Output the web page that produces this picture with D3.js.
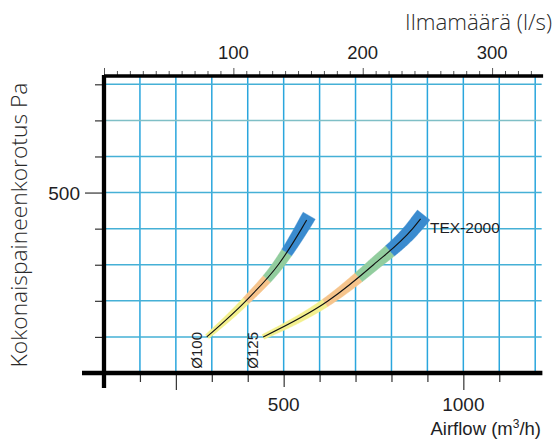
<!DOCTYPE html>
<html>
<head>
<meta charset="utf-8">
<script src="https://cdn.jsdelivr.net/npm/d3@7"></script>
<style>
  body { margin: 0; background: #fff; }
  svg text { font-family: "Liberation Sans", Arial, sans-serif; fill: #1e1e24; }
  svg text.light { font-family: "Open Sans", Lato, sans-serif; font-weight: 300; fill: #2a2a2a; }
</style>
</head>
<body>
<svg id="chart" width="558" height="441"></svg>
<script>
'use strict';

// tick values
var airflowTicks = [100, 200, 300, 400, 500, 600, 700, 800, 900, 1000, 1100];
var airflowLabels = [500, 1000];
var litreTicks = d3.range(0, 340, 10);
var litreLabels = [100, 200, 300];
var pressureTicks = [100, 200, 300, 400, 500, 600, 700, 800];
var pressureLabels = [500];

// duct curves: airflow (m3/h) vs pressure (Pa)
var d100Flow = [286, 395, 485, 550, 564];
var d100Pa = [100, 200, 300, 400, 424];
var d100Breaks = [286, 395, 453, 508, 564];

var d125Flow = [443, 624, 750, 859, 881];
var d125Pa = [100, 200, 300, 400, 427];
var d125Breaks = [443, 615, 708, 795, 881];

var bandColors = ['#f3f08e', '#f6c48c', '#92cd9e', '#3a8bcf'];

var svg = d3.select('#chart');

var x = d3.scaleLinear().domain([0, 1200]).range([104, 535.2]);
var xLs = d3.scaleLinear().domain([0, 1200 / 3.6]).range([104, 535.2]);
var y = d3.scaleLinear().domain([0, 800]).range([373, 84.3]);

var topY = y(823);

// grid
var grid = svg.append('g').attr('class', 'grid');
grid.selectAll('line.v')
  .data(airflowTicks.concat([1200]))
  .enter().append('line')
  .attr('class', 'v')
  .attr('x1', function (d) { return x(d); })
  .attr('x2', function (d) { return x(d); })
  .attr('y1', topY)
  .attr('y2', y(0))
  .attr('stroke', '#2aa6dd')
  .attr('stroke-width', 1.5);

grid.selectAll('line.h')
  .data(pressureTicks)
  .enter().append('line')
  .attr('class', 'h')
  .attr('x1', x(0))
  .attr('x2', x(1218))
  .attr('y1', function (d) { return y(d); })
  .attr('y2', function (d) { return y(d); })
  .attr('stroke', function (d) { return d === 700 ? '#7fbfc6' : '#45b0d6'; })
  .attr('stroke-width', 1.5);

// curves with coloured bands
var plot = svg.append('g').attr('class', 'curves');
var line = d3.line().curve(d3.curveMonotoneX);

function drawDuct(flow, pa, breaks, w0, w1, ext) {
  var pts = flow.map(function (f, i) { return [x(f), y(pa[i])]; });
  var guide = plot.append('path').attr('d', line(pts)).attr('fill', 'none');
  var node = guide.node();
  var total = node.getTotalLength();
  var n = 300;

  var samples = d3.range(n + 1).map(function (i) {
    var p = node.getPointAtLength(total * i / n);
    return { x: p.x, y: p.y, t: i / n };
  });
  samples.forEach(function (s, i) {
    var a = samples[Math.max(i - 1, 0)];
    var b = samples[Math.min(i + 1, n)];
    var dx = b.x - a.x, dy = b.y - a.y, len = Math.hypot(dx, dy);
    s.nx = -dy / len;
    s.ny = dx / len;
    s.w = w0 + (w1 - w0) * s.t;
  });

  // the band runs a little past the end of the line
  var last = samples[n];
  var tip = { x: last.x + last.ny * ext, y: last.y - last.nx * ext, nx: last.nx, ny: last.ny, w: last.w };

  var bandG = plot.insert('g', function () { return node; });
  for (var k = 0; k < breaks.length - 1; k++) {
    var xa = x(breaks[k]), xb = x(breaks[k + 1]);
    var i0 = samples.findIndex(function (s) { return s.x >= xa; });
    var i1 = samples.findIndex(function (s) { return s.x >= xb; });
    if (i1 < 0) i1 = n;
    var seg = samples.slice(i0, i1 + 1);
    if (k === breaks.length - 2) seg.push(tip);
    var upper = seg.map(function (s) { return [s.x + s.nx * s.w, s.y + s.ny * s.w]; });
    var lower = seg.map(function (s) { return [s.x - s.nx * s.w, s.y - s.ny * s.w]; }).reverse();
    bandG.append('path')
      .attr('d', 'M' + upper.concat(lower).join('L') + 'Z')
      .attr('fill', bandColors[k])
      .attr('stroke', bandColors[k])
      .attr('stroke-width', 0.4);
  }

  guide.attr('stroke', '#111').attr('stroke-width', 1.1);
}

drawDuct(d100Flow, d100Pa, d100Breaks, 2.6, 7, 5);
drawDuct(d125Flow, d125Pa, d125Breaks, 2.6, 8, 5);

// axes ticks
var axes = svg.append('g').attr('class', 'axes');

var bottomTicks = axes.append('g')
  .attr('transform', 'translate(0,' + y(0) + ')')
  .call(d3.axisBottom(x).tickValues(airflowTicks)
    .tickSizeInner(9).tickSizeOuter(0).tickFormat(''));
bottomTicks.select('.domain').remove();
bottomTicks.selectAll('.tick line')
  .attr('stroke', '#333')
  .attr('stroke-width', 1.2)
  .attr('y2', function (d) { return (d === 200 || d === 1000) ? 17 : (d === 500 ? 14 : 9); });

var leftTicks = axes.append('g')
  .attr('transform', 'translate(' + x(0) + ',0)')
  .call(d3.axisLeft(y).tickValues(pressureTicks)
    .tickSizeInner(9).tickSizeOuter(0).tickFormat(''));
leftTicks.select('.domain').remove();
leftTicks.selectAll('.tick line')
  .attr('stroke', '#333')
  .attr('stroke-width', 1.2)
  .attr('x2', function (d) { return d === 500 ? -19 : -9; });

var topTicks = axes.append('g')
  .attr('transform', 'translate(0,' + topY + ')')
  .call(d3.axisTop(xLs).tickValues(litreTicks)
    .tickSizeInner(5).tickSizeOuter(0).tickFormat(''));
topTicks.select('.domain').remove();
topTicks.selectAll('.tick line')
  .attr('stroke', '#555')
  .attr('stroke-width', 1)
  .attr('y2', function (d) { return d % 100 === 0 ? -8 : -5; });

// heavy axis lines
axes.append('line')
  .attr('x1', x(0)).attr('x2', x(0))
  .attr('y1', topY - 1).attr('y2', y(0) + 15)
  .attr('stroke', '#000').attr('stroke-width', 4.3);
axes.append('line')
  .attr('x1', x(0) - 22).attr('x2', x(1220))
  .attr('y1', y(0)).attr('y2', y(0))
  .attr('stroke', '#000').attr('stroke-width', 4.3);
axes.append('line')
  .attr('x1', x(0)).attr('x2', x(1222))
  .attr('y1', topY).attr('y2', topY)
  .attr('stroke', '#000').attr('stroke-width', 3.6);

// labels
var labels = svg.append('g').attr('class', 'labels');

labels.selectAll('text.bx')
  .data(airflowLabels)
  .enter().append('text')
  .attr('class', 'bx')
  .attr('x', function (d) { return x(d); })
  .attr('y', 411)
  .attr('text-anchor', 'middle')
  .attr('font-size', 19)
  .text(function (d) { return d; });

labels.selectAll('text.tx')
  .data(litreLabels)
  .enter().append('text')
  .attr('class', 'tx')
  .attr('x', function (d) { return xLs(d); })
  .attr('y', 59)
  .attr('text-anchor', 'middle')
  .attr('font-size', 18.5)
  .text(function (d) { return d; });

labels.selectAll('text.ly')
  .data(pressureLabels)
  .enter().append('text')
  .attr('class', 'ly')
  .attr('x', 80)
  .attr('y', function (d) { return y(d) + 7; })
  .attr('text-anchor', 'end')
  .attr('font-size', 19)
  .text(function (d) { return d; });

var airflowTitle = labels.append('text')
  .attr('x', 541)
  .attr('y', 435)
  .attr('text-anchor', 'end')
  .attr('font-size', 18.5);
airflowTitle.append('tspan').text('Airflow (m');
airflowTitle.append('tspan').attr('font-size', 12).attr('dy', -7).text('3');
airflowTitle.append('tspan').attr('dy', 7).text('/h)');

labels.append('text')
  .attr('class', 'light')
  .attr('x', 552)
  .attr('y', 30)
  .attr('text-anchor', 'end')
  .attr('font-size', 22.3)
  .text('Ilmamäärä (l/s)');

labels.append('text')
  .attr('class', 'light')
  .attr('transform', 'translate(27,225) rotate(-90)')
  .attr('text-anchor', 'middle')
  .attr('font-size', 22.8)
  .text('Kokonaispaineenkorotus Pa');

labels.append('text')
  .attr('x', 430)
  .attr('y', 233)
  .attr('font-size', 15.5)
  .text('TEX-2000');

labels.append('text')
  .attr('transform', 'translate(201.5,332) rotate(-90)')
  .attr('text-anchor', 'end')
  .attr('font-size', 15)
  .text('Ø100');

labels.append('text')
  .attr('transform', 'translate(258,332) rotate(-90)')
  .attr('text-anchor', 'end')
  .attr('font-size', 15)
  .text('Ø125');
</script>
</body>
</html>
